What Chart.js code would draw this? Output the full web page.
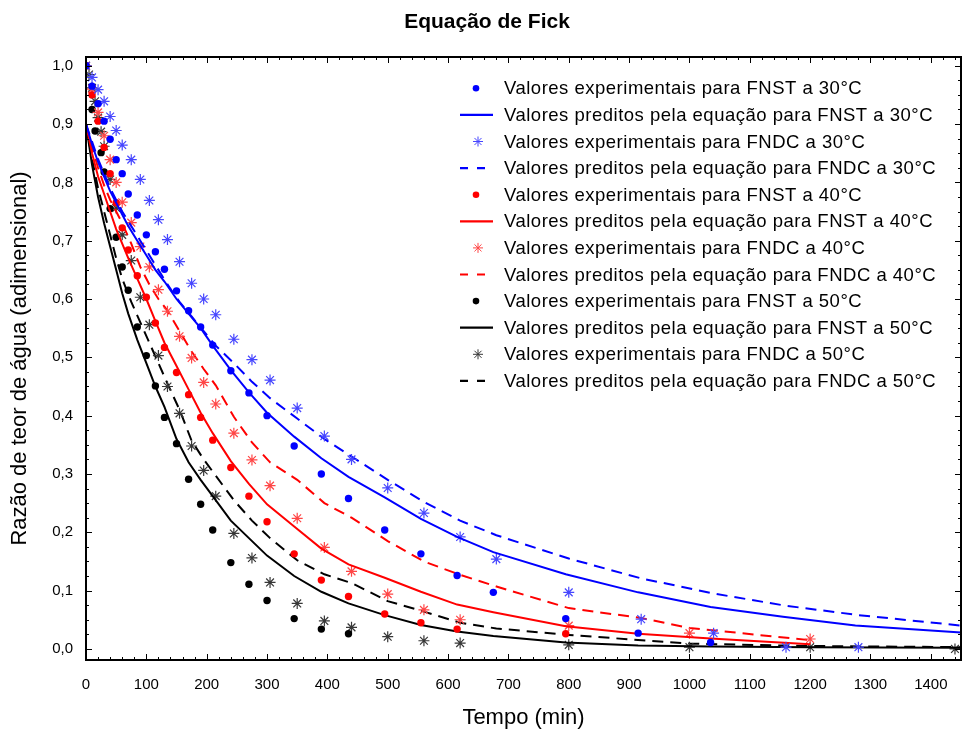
<!DOCTYPE html>
<html><head><meta charset="utf-8">
<script src="https://cdn.jsdelivr.net/npm/chart.js@4.4.1/dist/chart.umd.min.js"></script>
<style>html,body{margin:0;padding:0;background:#fff}#wrap{width:963px;height:740px}</style>
</head><body><div id="wrap"><canvas id="c" width="963" height="740"></canvas></div>
<script>
// ---------- DATA ----------
const chartTitle = 'Equação de Fick';
const legendLabels = [
  "Valores experimentais para FNST a 30°C",
  "Valores preditos pela equação para FNST a 30°C",
  "Valores experimentais para FNDC a 30°C",
  "Valores preditos pela equação para FNDC a 30°C",
  "Valores experimentais para FNST a 40°C",
  "Valores preditos pela equação para FNST a 40°C",
  "Valores experimentais para FNDC a 40°C",
  "Valores preditos pela equação para FNDC a 40°C",
  "Valores experimentais para FNST a 50°C",
  "Valores preditos pela equação para FNST a 50°C",
  "Valores experimentais para FNDC a 50°C",
  "Valores preditos pela equação para FNDC a 50°C"
];
const xTickValues = [0,100,200,300,400,500,600,700,800,900,1000,1100,1200,1300,1400];
const yTickValues = [0,0.1,0.2,0.3,0.4,0.5,0.6,0.7,0.8,0.9,1.0];

// FNST 30°C
const tExpFNST30 = [0,10,20,30,40,50,60,70,85,100,115,130,150,170,190,210,240,270,300,345,390,435,495,555,615,675,795,915,1035];
const vExpFNST30 = [1.0,0.965,0.935,0.905,0.874,0.839,0.815,0.780,0.744,0.710,0.681,0.651,0.614,0.580,0.552,0.521,0.477,0.439,0.400,0.348,0.300,0.258,0.204,0.163,0.126,0.097,0.052,0.027,0.011];
const tPredFNST30 = [0,10,20,30,40,50,60,70,85,100,115,130,150,170,190,210,240,270,300,345,390,435,495,555,615,675,795,915,1035,1155,1275,1450];
const vPredFNST30 = [0.90,0.865,0.835,0.81,0.785,0.765,0.745,0.725,0.70,0.675,0.65,0.63,0.60,0.575,0.55,0.52,0.478,0.44,0.405,0.364,0.327,0.295,0.26,0.223,0.192,0.166,0.128,0.097,0.072,0.055,0.040,0.028];
// FNDC 30°C
const tExpFNDC30 = [0,10,20,30,40,50,60,75,90,105,120,135,155,175,195,215,245,275,305,350,395,440,500,560,620,680,800,920,1040,1160,1280];
const vExpFNDC30 = [1.0,0.98,0.959,0.939,0.913,0.889,0.864,0.839,0.805,0.769,0.736,0.702,0.664,0.627,0.600,0.573,0.531,0.496,0.461,0.413,0.365,0.325,0.276,0.233,0.192,0.154,0.097,0.051,0.027,0.003,0.003];
const tPredFNDC30 = [0,10,20,30,40,50,60,75,90,105,120,135,155,175,195,215,245,275,305,350,395,440,500,560,620,680,800,920,1040,1160,1280,1450];
const vPredFNDC30 = [0.90,0.87,0.84,0.815,0.79,0.77,0.75,0.725,0.70,0.675,0.65,0.625,0.595,0.57,0.545,0.52,0.49,0.458,0.43,0.395,0.36,0.33,0.29,0.252,0.22,0.195,0.155,0.121,0.095,0.074,0.058,0.040];
// FNST 40°C
const tExpFNST40 = [0,10,20,30,40,50,60,70,85,100,115,130,150,170,190,210,240,270,300,345,390,435,495,555,615,795];
const vExpFNST40 = [1.0,0.95,0.905,0.86,0.815,0.765,0.722,0.684,0.640,0.603,0.559,0.517,0.474,0.436,0.397,0.358,0.311,0.262,0.218,0.163,0.118,0.090,0.060,0.045,0.034,0.026];
const tPredFNST40 = [0,10,20,30,40,50,60,70,85,100,115,130,150,170,190,210,240,270,300,345,390,435,495,555,615,675,795,915,1035,1200];
const vPredFNST40 = [0.90,0.85,0.81,0.78,0.75,0.72,0.695,0.67,0.635,0.60,0.562,0.525,0.485,0.445,0.405,0.37,0.322,0.283,0.248,0.21,0.172,0.145,0.122,0.098,0.076,0.063,0.039,0.026,0.018,0.008];
// FNDC 40°C
const tExpFNDC40 = [0,10,20,30,40,50,60,75,90,105,120,135,155,175,195,215,245,275,305,350,395,440,500,560,620,800,1000,1200];
const vExpFNDC40 = [1.0,0.96,0.92,0.88,0.839,0.800,0.766,0.731,0.690,0.655,0.616,0.579,0.536,0.499,0.457,0.420,0.370,0.324,0.280,0.224,0.174,0.133,0.094,0.067,0.050,0.040,0.027,0.017];
const tPredFNDC40 = [0,10,20,30,40,50,60,75,90,105,120,135,155,175,195,215,245,275,305,350,395,440,500,560,620,680,800,920,1000,1200];
const vPredFNDC40 = [0.90,0.86,0.825,0.795,0.77,0.75,0.73,0.695,0.655,0.625,0.60,0.58,0.545,0.51,0.48,0.452,0.398,0.354,0.32,0.29,0.25,0.225,0.185,0.15,0.127,0.107,0.070,0.053,0.036,0.015];
// FNST 50°C
const tExpFNST50 = [0,10,15,25,30,40,50,60,70,85,100,115,130,150,170,190,210,240,270,300,345,390,435];
const vExpFNST50 = [1.0,0.925,0.888,0.851,0.818,0.755,0.706,0.655,0.615,0.552,0.503,0.451,0.397,0.352,0.291,0.248,0.204,0.148,0.111,0.083,0.052,0.034,0.026];
const tPredFNST50 = [0,10,20,30,40,50,60,70,85,100,115,130,150,170,190,210,240,270,300,345,390,435,495,555,615,675,795,915,1035,1200,1450];
const vPredFNST50 = [0.90,0.83,0.775,0.73,0.69,0.65,0.61,0.575,0.53,0.49,0.45,0.415,0.36,0.32,0.29,0.262,0.22,0.19,0.16,0.125,0.098,0.078,0.058,0.041,0.030,0.022,0.011,0.006,0.004,0.003,0.002];
// FNDC 50°C
const tExpFNDC50 = [0,5,10,15,20,25,30,40,50,60,75,90,105,120,135,155,175,195,215,245,275,305,350,395,440,500,560,620,800,1000,1200,1440];
const vExpFNDC50 = [1.0,0.985,0.962,0.939,0.911,0.887,0.862,0.805,0.756,0.710,0.666,0.603,0.556,0.503,0.450,0.404,0.348,0.306,0.262,0.198,0.156,0.114,0.078,0.048,0.037,0.021,0.014,0.010,0.007,0.003,0.003,0.0];
const tPredFNDC50 = [0,10,20,30,40,50,60,75,90,105,120,135,155,175,195,215,245,275,305,350,395,440,500,560,620,680,800,1000,1200,1450];
const vPredFNDC50 = [0.90,0.84,0.79,0.75,0.71,0.67,0.635,0.595,0.56,0.525,0.49,0.455,0.41,0.357,0.325,0.297,0.255,0.22,0.19,0.152,0.128,0.113,0.082,0.064,0.045,0.035,0.024,0.009,0.005,0.003];

// ---------- CHART ----------
const FONT = "'Liberation Sans', Arial, Helvetica, sans-serif";
const pts = (t, v) => t.map((x, i) => ({x: x, y: v[i]}));

function expSet(i, t, v, style, color) {
  return {
    label: legendLabels[i], data: pts(t, v), showLine: false,
    pointStyle: style,
    pointRadius: style === 'circle' ? 3.7 : 5.5,
    pointHoverRadius: style === 'circle' ? 3.7 : 5.5,
    backgroundColor: color, borderColor: color,
    borderWidth: style === 'circle' ? 0 : 1.2
  };
}
function predSet(i, t, v, color, dashed) {
  return {
    label: legendLabels[i], data: pts(t, v), showLine: true, tension: 0,
    pointRadius: 0, pointHoverRadius: 0, fill: false,
    borderColor: color, backgroundColor: color, borderWidth: 2,
    borderDash: dashed ? [11, 7] : []
  };
}

const BLUE = '#0000ff', RED = '#ff0000', BLACK = '#000000';
const BLUE_S = 'rgb(70,70,255)', RED_S = 'rgb(255,70,70)', BLACK_S = 'rgb(55,55,55)';

const datasets = [
  expSet(0, tExpFNST30, vExpFNST30, 'circle', BLUE),
  predSet(1, tPredFNST30, vPredFNST30, BLUE, false),
  expSet(2, tExpFNDC30, vExpFNDC30, 'star', BLUE_S),
  predSet(3, tPredFNDC30, vPredFNDC30, BLUE, true),
  expSet(4, tExpFNST40, vExpFNST40, 'circle', RED),
  predSet(5, tPredFNST40, vPredFNST40, RED, false),
  expSet(6, tExpFNDC40, vExpFNDC40, 'star', RED_S),
  predSet(7, tPredFNDC40, vPredFNDC40, RED, true),
  expSet(8, tExpFNST50, vExpFNST50, 'circle', BLACK),
  predSet(9, tPredFNST50, vPredFNST50, BLACK, false),
  expSet(10, tExpFNDC50, vExpFNDC50, 'star', BLACK_S),
  predSet(11, tPredFNDC50, vPredFNDC50, BLACK, true)
];

// frame + inward ticks drawn from the scales, and the title
const framePlugin = {
  id: 'frame',
  afterDraw(chart) {
    const {ctx, chartArea: a, scales: {x, y}} = chart;
    ctx.save();
    ctx.strokeStyle = '#000';
    ctx.lineWidth = 1;
    ctx.beginPath();
    const xMinor = 20, yMinor = 0.025;
    for (let k = 0; k * xMinor <= x.max + 1e-9; k++) {
      const t = k * xMinor;
      const px = Math.round(x.getPixelForValue(t)) + 0.5;
      const L = xTickValues.includes(t) ? 6 : 3;
      ctx.moveTo(px, a.bottom); ctx.lineTo(px, a.bottom - L);
      ctx.moveTo(px, a.top); ctx.lineTo(px, a.top + L);
    }
    for (let k = 0; k * yMinor <= 1.0001; k++) {
      const v = k * yMinor;
      const py = Math.round(y.getPixelForValue(v)) + 0.5;
      const L = (k % 4 === 0) ? 6 : 3;
      ctx.moveTo(a.left, py); ctx.lineTo(a.left + L, py);
      ctx.moveTo(a.right, py); ctx.lineTo(a.right - L, py);
    }
    ctx.stroke();
    ctx.lineWidth = 2;
    ctx.strokeRect(a.left, a.top, a.right - a.left, a.bottom - a.top);
    // title
    ctx.fillStyle = '#000';
    ctx.font = "bold 21px " + FONT;
    ctx.textAlign = 'center';
    ctx.textBaseline = 'middle';
    ctx.fillText(chartTitle, 487, 22);
    ctx.restore();
  }
};

// legend inside plot (top right)
const legendPlugin = {
  id: 'innerLegend',
  afterDraw(chart) {
    const ctx = chart.ctx;
    const x0 = 460, x1 = 493, mx = 476, tx = 504, y0 = 88.3, dy = 26.6;
    ctx.save();
    ctx.font = "18.5px " + FONT;
    try { ctx.letterSpacing = '0.5px'; } catch (e) {}
    ctx.textBaseline = 'middle';
    ctx.textAlign = 'left';
    chart.data.datasets.forEach((ds, i) => {
      const yy = y0 + i * dy;
      ctx.strokeStyle = ds.borderColor; ctx.fillStyle = ds.backgroundColor;
      if (ds.showLine) {
        ctx.lineWidth = 2.2;
        ctx.beginPath();
        if (ds.borderDash && ds.borderDash.length) {
          ctx.moveTo(x0, yy); ctx.lineTo(x0 + 8, yy);
          ctx.moveTo(x0 + 17, yy); ctx.lineTo(x0 + 25, yy);
        } else {
          ctx.moveTo(x0, yy); ctx.lineTo(x1, yy);
        }
        ctx.stroke();
      } else if (ds.pointStyle === 'circle') {
        ctx.beginPath(); ctx.arc(mx, yy, 3.3, 0, Math.PI * 2); ctx.fill();
      } else {
        const r = 5, sx = mx + 2;
        ctx.lineWidth = 1;
        ctx.beginPath();
        ctx.moveTo(sx - r, yy); ctx.lineTo(sx + r, yy);
        ctx.moveTo(sx, yy - r); ctx.lineTo(sx, yy + r);
        const d = r * Math.SQRT1_2;
        ctx.moveTo(sx - d, yy - d); ctx.lineTo(sx + d, yy + d);
        ctx.moveTo(sx - d, yy + d); ctx.lineTo(sx + d, yy - d);
        ctx.stroke();
      }
      ctx.fillStyle = '#000';
      ctx.fillText(ds.label, tx, yy + 1);
    });
    ctx.restore();
  }
};

new Chart(document.getElementById('c'), {
  type: 'scatter',
  data: {datasets: datasets},
  options: {
    responsive: false, animation: false, devicePixelRatio: 1,
    layout: {autoPadding: false, padding: {left: 0, right: 2, top: 57, bottom: 0}},
    plugins: {
      legend: {display: false}, tooltip: {enabled: false},
      title: {display: false}
    },
    scales: {
      x: {
        type: 'linear', position: 'bottom', min: 0, max: 1450,
        afterFit: s => { s.height = 80; s.paddingLeft = 0; s.paddingRight = 0; },
        grid: {display: false, drawTicks: false}, border: {display: false},
        ticks: {
          stepSize: 100, includeBounds: false, autoSkip: false, maxRotation: 0,
          color: '#000', font: {family: FONT, size: 15}, padding: 16,
          callback: v => xTickValues.includes(v) ? String(v) : ''
        },
        title: {display: true, text: 'Tempo (min)', color: '#000',
          font: {family: FONT, size: 22}, padding: {top: 0, bottom: 9}}
      },
      y: {
        type: 'linear', position: 'left', min: -0.019, max: 1.015,
        afterFit: s => { s.width = 86; s.paddingTop = 0; s.paddingBottom = 0; },
        grid: {display: false, drawTicks: false}, border: {display: false},
        ticks: {
          stepSize: 0.1, includeBounds: false, autoSkip: false,
          color: '#000', font: {family: FONT, size: 15}, padding: 13,
          callback: v => {
            const m = yTickValues.find(t => Math.abs(t - v) < 1e-6);
            return m === undefined ? '' : m.toFixed(1).replace('.', ',');
          }
        },
        title: {display: true, text: 'Razão de teor de água (adimensional)', color: '#000',
          font: {family: FONT, size: 22}, padding: {top: 7, bottom: 0}}
      }
    }
  },
  plugins: [framePlugin, legendPlugin]
});
</script></body></html>
